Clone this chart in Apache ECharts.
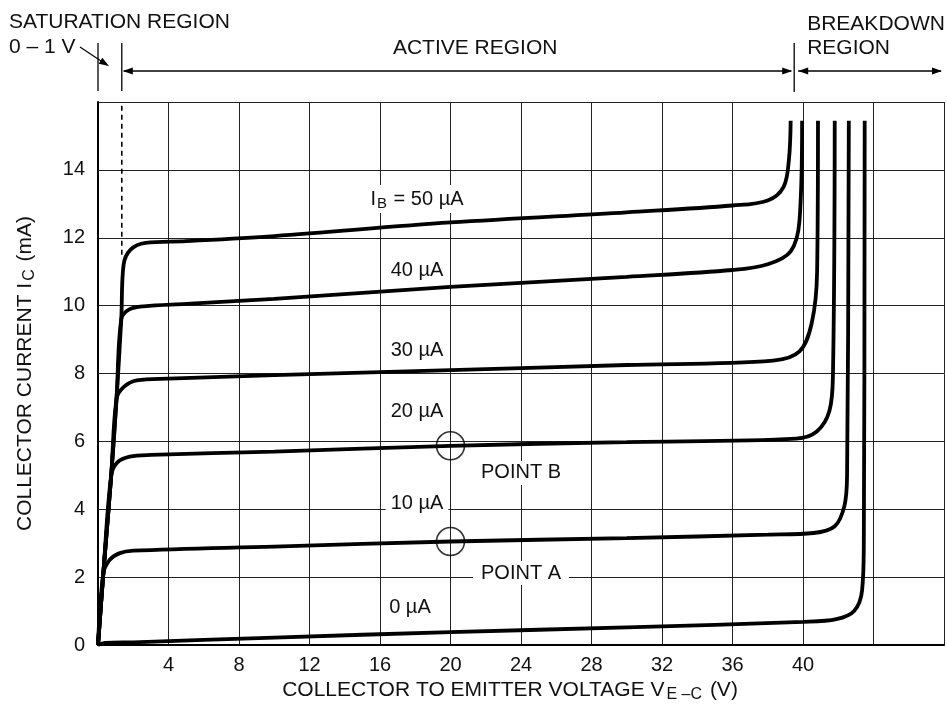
<!DOCTYPE html>
<html><head><meta charset="utf-8">
<script src="https://cdn.jsdelivr.net/npm/echarts@6/dist/echarts.min.js"></script>
<style>html,body{margin:0;padding:0;background:#fff}#c{width:947px;height:713px}</style>
</head><body><div id="c"></div>
<script>
// ---- data ----
const xTickLabels = [4, 8, 12, 16, 20, 24, 28, 32, 36, 40];
const yTickLabels = [0, 2, 4, 6, 8, 10, 12, 14];

// Collector current curves (V_EC in V, I_C in mA)
const ib0  = [[0,0],[0.4,0.06],[2,0.08],[10,0.22],[20,0.38],[30,0.52],[40,0.68],[41.9,0.76],[42.9,1.0],[43.35,1.6],[43.45,3],[43.5,15.45]];
const ib10 = [[0,0],[0.3,2.1],[0.65,2.5],[1.2,2.7],[2,2.78],[10,2.9],[20,3.05],[30,3.15],[38,3.25],[40.6,3.3],[41.8,3.5],[42.35,4.1],[42.5,5],[42.6,15.45]];
const ib20 = [[0,0],[0.3,2.1],[0.75,5.0],[1.1,5.38],[1.8,5.55],[3,5.6],[10,5.7],[20,5.87],[30,5.98],[39.6,6.08],[40.8,6.3],[41.5,6.9],[41.7,8],[41.8,15.45]];
const ib30 = [[0,0],[0.3,2.1],[0.75,5.0],[1.05,7.25],[1.45,7.6],[2.2,7.8],[4,7.85],[10,7.95],[20,8.1],[30,8.25],[38.3,8.38],[39.8,8.65],[40.5,9.5],[40.8,11],[40.85,15.45]];
const ib40 = [[0,0],[0.3,2.1],[0.75,5.0],[1.05,7.25],[1.32,9.6],[1.75,9.88],[2.6,9.98],[5,10.05],[10,10.2],[20,10.55],[30,10.85],[36,11.05],[38,11.22],[39.3,11.6],[39.8,12.5],[39.95,15.45]];
const ib50 = [[0,0],[0.3,2.1],[0.75,5.0],[1.05,7.25],[1.32,9.6],[1.45,11.2],[1.85,11.65],[2.7,11.85],[5,11.9],[10,12.05],[20,12.45],[30,12.75],[36,12.95],[38,13.1],[38.9,13.5],[39.2,14.3],[39.3,15.45]];
const curves = [ib0, ib10, ib20, ib30, ib40, ib50];
const curveNames = ['0 µA', '10 µA', '20 µA', '30 µA', '40 µA', '50 µA'];

const operatingPoints = [[20, 3.05], [20, 5.87]];
const operatingPointNames = ['POINT A', 'POINT B'];

const saturationEdge = 1.35;   // V
const breakdownEdge = 39.5;    // V
const saturationDashTop = 11.5; // mA

// label anchors (data coordinates)
const curveLabelPos = [[17.7,1.12],[18.1,4.18],[18.1,6.87],[18.1,8.69],[18.1,11.05],[18.1,13.14]];
const pointLabelPos = [[24.0,2.12],[24.0,5.07]];
const activeLabelX = 21.4;

// ---- chart ----
const FONT = '"Liberation Sans", Arial, Helvetica, sans-serif';
const INK = '#111';
const chart = echarts.init(document.getElementById('c'), null, {renderer: 'canvas'});

const series = curves.map((d, i) => ({
  name: curveNames[i], type: 'line', data: d, showSymbol: false, symbol: 'none',
  smooth: 0.35, lineStyle: {color: '#000', width: 3.8}, z: 4, silent: true
}));
series.push({
  name: 'saturation limit', type: 'line', symbol: 'none', silent: true,
  data: [[saturationEdge, saturationDashTop], [saturationEdge, 16]],
  lineStyle: {color: '#000', width: 1.6, type: [5, 4]}, z: 3
});
series.push({
  name: 'operating points', type: 'scatter', data: operatingPoints, symbol: 'circle', symbolSize: 28,
  itemStyle: {color: 'rgba(0,0,0,0)', borderColor: '#000', borderWidth: 1.6}, z: 5, silent: true
});

chart.setOption({
  animation: false,
  backgroundColor: '#fff',
  textStyle: {fontFamily: FONT},
  grid: {left: 98, right: 0, top: 102, bottom: 68, containLabel: false},
  xAxis: {
    type: 'value', min: 0, max: 48, interval: 4,
    axisLine: {show: true, lineStyle: {color: '#000', width: 2}},
    axisTick: {show: false},
    axisLabel: {fontSize: 20, color: INK, fontFamily: FONT, margin: 10,
      formatter: v => xTickLabels.includes(v) ? String(v) : ''},
    splitLine: {show: true, lineStyle: {color: '#222', width: 1}},
    name: '{n|COLLECTOR TO EMITTER VOLTAGE V}{s|E –C}{n| (V)}',
    nameLocation: 'middle', nameGap: 33,
    nameTextStyle: {padding: [0, 22, 0, 0], rich: {
      n: {fontSize: 21, color: INK, fontFamily: FONT},
      s: {fontSize: 16, color: INK, fontFamily: FONT, padding: [9, 2, 0, 2]}
    }}
  },
  yAxis: {
    type: 'value', min: 0, max: 16, interval: 2,
    axisLine: {show: true, lineStyle: {color: '#000', width: 2}},
    axisTick: {show: false},
    axisLabel: {fontSize: 20, color: INK, fontFamily: FONT, margin: 13,
      formatter: v => yTickLabels.includes(v) ? String(v) : ''},
    splitLine: {show: true, lineStyle: {color: '#222', width: 1}},
    name: '{n|COLLECTOR CURRENT I}{s|C}{n| (mA)}',
    nameLocation: 'middle', nameGap: 60, nameRotate: 90,
    nameTextStyle: {rich: {
      n: {fontSize: 21, color: INK, fontFamily: FONT},
      s: {fontSize: 16, color: INK, fontFamily: FONT, padding: [9, 2, 0, 2]}
    }}
  },
  series: series
});

// ---- annotations positioned through the axes ----
const px = (x, y) => chart.convertToPixel({gridIndex: 0}, [x, y]);
const g = [];
const txtStyle = (text, extra, size) => Object.assign({text: text, fill: INK, font: (size || 21) + 'px ' + FONT}, extra || {});

function arrowHead(tx, ty, dx, dy) {
  const L = 10, W = 3.5;
  const n = Math.hypot(dx, dy); dx /= n; dy /= n;
  const bx = tx - dx * L, by = ty - dy * L;
  return {type: 'polygon', shape: {points: [[tx, ty], [bx - dy * W, by + dx * W], [bx + dy * W, by - dx * W]]},
    style: {fill: '#000'}, silent: true};
}
function seg(x1, y1, x2, y2, w) {
  return {type: 'line', shape: {x1, y1, x2, y2}, style: {stroke: '#000', lineWidth: w || 1.3}, silent: true};
}

const x0 = px(0, 0)[0], xs = px(saturationEdge, 0)[0], xb = px(breakdownEdge, 0)[0], xr = px(48, 0)[0];
const xa = px(activeLabelX, 0)[0];
const yBar = 71;
g.push(seg(x0, 43, x0, 91));
g.push(seg(xs, 43, xs, 91));
g.push(seg(xb, 43, xb, 92));
g.push(seg(xs + 2, yBar, xb - 3, yBar));
g.push(arrowHead(xs + 1, yBar, -1, 0));
g.push(arrowHead(xb - 2, yBar, 1, 0));
g.push(seg(xb + 4, yBar, xr - 3, yBar));
g.push(arrowHead(xb + 4, yBar, -1, 0));
g.push(arrowHead(xr - 2, yBar, 1, 0));
// saturation pointer
g.push(seg(80, 47, x0 + 9, 65, 1.2));
g.push(arrowHead(x0 + 11, 66, 1, 0.62));

g.push({type: 'text', x: 9, y: 22, style: txtStyle('SATURATION REGION', {verticalAlign: 'middle'}), silent: true});
g.push({type: 'text', x: 9, y: 47, style: txtStyle('0 – 1 V', {verticalAlign: 'middle'}), silent: true});
g.push({type: 'text', x: xa, y: 48, style: txtStyle('ACTIVE REGION', {align: 'center', verticalAlign: 'middle'}), silent: true});
g.push({type: 'text', x: xb + 13, y: 24, style: txtStyle('BREAKDOWN', {verticalAlign: 'middle'}), silent: true});
g.push({type: 'text', x: xb + 13, y: 48, style: txtStyle('REGION', {verticalAlign: 'middle'}), silent: true});

curveLabelPos.forEach((p, i) => {
  const q = px(p[0], p[1]);
  const label = i === 5 ? '{n|I}{s|B}{n| = 50 µA}' : '{n|' + curveNames[i] + '}';
  g.push({type: 'text', x: q[0], y: q[1], z: 10, silent: true, style: {
    text: label, align: 'center', verticalAlign: 'middle', backgroundColor: '#fff', padding: [2, 5],
    rich: {n: {fontSize: 20, fill: INK, fontFamily: FONT}, s: {fontSize: 15, fill: INK, fontFamily: FONT, padding: [9, 1, 0, 1]}}
  }});
});
pointLabelPos.forEach((p, i) => {
  const q = px(p[0], p[1]);
  g.push({type: 'text', x: q[0], y: q[1], z: 10, silent: true, style: txtStyle(operatingPointNames[i],
    {align: 'center', verticalAlign: 'middle', backgroundColor: '#fff', padding: [2, 8]}, 20)});
});

chart.setOption({graphic: g});
</script>
</body></html>
